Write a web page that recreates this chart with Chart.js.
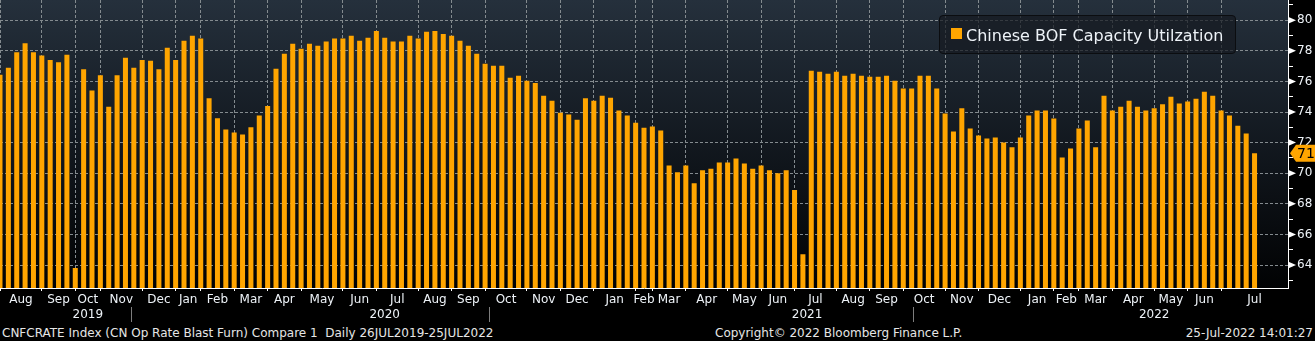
<!DOCTYPE html>
<html>
<head>
<meta charset="utf-8">
<script src="https://cdn.jsdelivr.net/npm/chart.js@4.4.1/dist/chart.umd.min.js"></script>
<style>
  body { margin:0; background:#000; width:1315px; height:341px; overflow:hidden; position:relative; font-family:'DejaVu Sans', sans-serif; }
  #plotbg { position:absolute; left:0; top:0; width:1288px; height:289px; background:linear-gradient(to bottom, #25303c 0%, #12181f 50%, #010203 100%); }
  #wrap { position:absolute; left:0; top:0; width:1315px; height:323px; }
  #legend { position:absolute; left:939px; top:15px; width:295px; height:37px; background:rgba(22,27,33,0.72); border:1px solid #0b0d10; border-radius:4px; color:#eef3f8; font-size:16px; }
  #legend .box { position:absolute; left:11px; top:12px; width:11px; height:11px; background:#ffa500; }
  #legend .txt { position:absolute; left:26px; top:10px; line-height:19px; white-space:nowrap; }
  .foot { position:absolute; top:326px; font-size:12px; line-height:14px; color:#e6e6e6; white-space:nowrap; }
</style>
</head>
<body>
<div id="plotbg"></div>
<div id="wrap"><canvas id="myChart"></canvas></div>
<div id="legend"><span class="box"></span><span class="txt">Chinese BOF Capacity Utilzation</span></div>
<div class="foot" style="left:2px;">CNFCRATE Index (CN Op Rate Blast Furn) Compare 1&nbsp; Daily 26JUL2019-25JUL2022</div>
<div class="foot" style="left:715px;">Copyright© 2022 Bloomberg Finance L.P.</div>
<div class="foot" style="right:2px;">25-Jul-2022 14:01:27</div>
<script>
// weekly values, one per bar (26 Jul 2019 .. 22 Jul 2022)
const values = [
  76.44, 76.9, 77.9, 78.5, 77.9, 77.7, 77.4, 77.25, 77.75, 63.8,
  76.8, 75.4, 76.4, 74.35, 76.4, 77.55, 76.9, 77.4, 77.35, 76.8,
  78.2, 77.4, 78.65, 78.98, 78.8, 74.9, 73.6, 72.85, 72.66, 72.53,
  73.0, 73.77, 74.4, 76.83, 77.8, 78.46, 78.13, 78.46, 78.33, 78.6,
  78.8, 78.8, 78.98, 78.65, 78.85, 79.3, 78.85, 78.6, 78.6, 78.98,
  78.8, 79.24, 79.3, 79.1, 78.98, 78.65, 78.33, 77.8, 77.15, 77.03,
  77.03, 76.24, 76.37, 76.05, 75.9, 75.07, 74.74, 73.96, 73.83, 73.5,
  74.9, 74.74, 75.07, 74.94, 74.1, 73.77, 73.3, 72.98, 73.05, 72.8,
  70.5, 70.06, 70.5, 69.35, 70.2, 70.3, 70.7, 70.7, 70.97, 70.64,
  70.3, 70.5, 70.2, 70.0, 70.2, 68.9, 64.7, 76.7, 76.63, 76.5,
  76.63, 76.37, 76.5, 76.37, 76.3, 76.3, 76.37, 76.05, 75.53, 75.53,
  76.37, 76.37, 75.53, 73.9, 72.72, 74.24, 72.92, 72.47, 72.27, 72.34,
  72.0, 71.7, 72.34, 73.77, 74.1, 74.1, 73.57, 71.03, 71.62, 72.92,
  73.44, 71.7, 75.07, 74.1, 74.35, 74.74, 74.35, 74.1, 74.24, 74.5,
  75.0, 74.55, 74.68, 74.87, 75.33, 75.07, 74.1, 73.77, 73.11, 72.6,
  71.3
];

// month labels and the bar index where each month begins
const monthNames = ['Aug','Sep','Oct','Nov','Dec','Jan','Feb','Mar','Apr','May','Jun','Jul',
  'Aug','Sep','Oct','Nov','Dec','Jan','Feb','Mar','Apr','May','Jun','Jul',
  'Aug','Sep','Oct','Nov','Dec','Jan','Feb','Mar','Apr','May','Jun','Jul'];
const monthStarts = [0, 5, 9, 12, 17, 21, 24, 28, 32, 36, 41, 45,
  50, 54, 58, 63, 67, 71, 76, 78, 82, 87, 91, 95,
  100, 104, 108, 113, 117, 122, 126, 129, 133, 138, 142, 146];
const yearNames = ['2019', '2020', '2021', '2022'];
const yearStarts = [0, 21, 71, 122];
const xEnd = 154;

const yMajor = [64, 66, 68, 70, 72, 74, 76, 78, 80];
const yMinor = [63, 65, 67, 69, 71, 73, 75, 77, 79, 81];

const spanCenters = (starts) => starts.map((s, i) => (s + (i + 1 < starts.length ? starts[i + 1] : xEnd)) / 2);
const monthCenters = spanCenters(monthStarts);
const yearCenters = spanCenters(yearStarts);
const yearBounds = yearStarts.slice(1);

const gridColor = '#848b8f';
const textColor = '#eef3f8';
const barColor = '#ffa500';

Chart.defaults.font.family = "'DejaVu Sans', sans-serif";
Chart.defaults.font.size = 12;
Chart.defaults.color = textColor;

// arrow markers on major y ticks + last value tag
const axisMarks = {
  id: 'axisMarks',
  afterDraw(chart) {
    const {ctx} = chart;
    const y = chart.scales.y;
    const x0 = y.left;
    ctx.save();
    ctx.fillStyle = '#ffffff';
    yMajor.forEach(v => {
      const py = y.getPixelForValue(v);
      ctx.beginPath();
      ctx.moveTo(x0, py - 3.5);
      ctx.lineTo(x0 + 8, py);
      ctx.lineTo(x0, py + 3.5);
      ctx.closePath();
      ctx.fill();
    });
    const last = values[values.length - 1];
    const py = y.getPixelForValue(last);
    ctx.fillStyle = barColor;
    ctx.beginPath();
    ctx.moveTo(x0 + 2, py);
    ctx.lineTo(x0 + 8, py - 8.5);
    ctx.lineTo(y.right, py - 8.5);
    ctx.lineTo(y.right, py + 8.5);
    ctx.lineTo(x0 + 8, py + 8.5);
    ctx.closePath();
    ctx.fill();
    ctx.fillStyle = '#000';
    ctx.font = "14px 'DejaVu Sans', sans-serif";
    ctx.textBaseline = 'middle';
    ctx.fillText(String(Math.floor(last)), x0 + 9, py + 1);
    ctx.restore();
  }
};

const ctx = document.getElementById('myChart');
new Chart(ctx, {
  type: 'bar',
  data: {
    datasets: [{
      label: 'Chinese BOF Capacity Utilzation',
      data: values.map((v, i) => ({x: i, y: v})),
      backgroundColor: barColor,
      borderWidth: 0,
      barPercentage: 0.6,
      categoryPercentage: 1,
      xAxisID: 'x',
      yAxisID: 'y'
    }]
  },
  options: {
    responsive: true,
    maintainAspectRatio: false,
    animation: false,
    layout: { padding: 0 },
    plugins: {
      legend: { display: false },
      tooltip: { enabled: false }
    },
    scales: {
      x: {
        type: 'linear',
        position: 'bottom',
        weight: 0,
        min: 0,
        max: xEnd,
        offset: false,
        afterBuildTicks: s => { s.ticks = monthStarts.map(v => ({value: v})); },
        afterFit: s => { s.height = 3; s.paddingLeft = 0; s.paddingRight = 0; },
        ticks: { display: false },
        grid: {
          offset: false,
          color: gridColor,
          tickColor: '#ffffff',
          tickLength: 3
        },
        border: { display: true, color: '#ffffff', dash: [3, 2] }
      },
      xm: {
        type: 'linear',
        position: 'bottom',
        weight: 1,
        min: 0,
        max: xEnd,
        offset: false,
        afterBuildTicks: s => { s.ticks = monthCenters.map(v => ({value: v})); },
        afterFit: s => { s.height = 16; s.paddingLeft = 0; s.paddingRight = 0; },
        grid: { display: false, drawTicks: false },
        border: { display: false },
        ticks: {
          autoSkip: false,
          maxRotation: 0,
          minRotation: 0,
          padding: 2,
          color: textColor,
          callback: (v, i) => monthNames[i]
        }
      },
      xy: {
        type: 'linear',
        position: 'bottom',
        weight: 2,
        min: 0,
        max: xEnd,
        offset: false,
        afterBuildTicks: s => {
          s.ticks = yearBounds.concat(yearCenters).sort((a, b) => a - b).map(v => ({value: v}));
        },
        afterFit: s => { s.height = 16; s.paddingLeft = 0; s.paddingRight = 0; },
        grid: {
          display: true,
          drawOnChartArea: false,
          drawTicks: true,
          tickLength: 15,
          tickColor: c => yearBounds.includes(c.tick && c.tick.value) ? '#7d7d7d' : 'rgba(0,0,0,0)'
        },
        border: { display: false },
        ticks: {
          autoSkip: false,
          maxRotation: 0,
          minRotation: 0,
          padding: -14,
          color: textColor,
          callback: v => {
            const k = yearCenters.indexOf(v);
            return k >= 0 ? yearNames[k] : '';
          }
        }
      },
      y: {
        type: 'linear',
        position: 'right',
        min: 62.5,
        max: 81.32,
        beginAtZero: false,
        afterBuildTicks: s => {
          s.ticks = yMajor.concat(yMinor).sort((a, b) => a - b).map(v => ({value: v}));
        },
        afterFit: s => { s.width = 27; s.paddingTop = 0; s.paddingBottom = 0; },
        grid: {
          color: c => yMajor.includes(c.tick && c.tick.value) ? gridColor : 'rgba(0,0,0,0)',
          tickColor: '#ffffff',
          tickLength: 5
        },
        border: { display: true, color: '#ffffff', dash: [3, 2] },
        ticks: {
          autoSkip: false,
          padding: 4,
          color: textColor,
          callback: v => yMajor.includes(v) ? String(v) : ''
        }
      }
    }
  },
  plugins: [axisMarks]
});
</script>
</body>
</html>
